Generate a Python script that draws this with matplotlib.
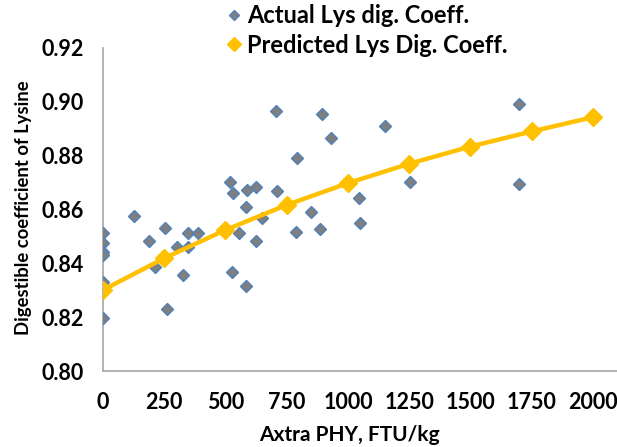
import matplotlib
matplotlib.use("Agg")
import matplotlib.pyplot as plt

plt.rcParams['font.family'] = ['Lato', 'DejaVu Sans']
plt.rcParams['font.weight'] = 'bold'

# Actual Lys digestibility coefficients
actual_phy = [0, 0, 0, 0, 0, 0, 0,
              128, 188, 212, 253, 262, 301, 328, 348, 348, 389,
              518, 525, 529, 555, 582, 584, 586, 623, 624, 648,
              705, 709, 786, 793, 849, 886, 894, 931,
              1045, 1049, 1151, 1253, 1698, 1698]
actual_coeff = [0.8512, 0.8475, 0.8443, 0.8431, 0.8332, 0.8294, 0.8196,
                0.8577, 0.8483, 0.8388, 0.8533, 0.8229, 0.8462, 0.8357, 0.8512, 0.8462, 0.8514,
                0.8704, 0.8369, 0.8661, 0.8514, 0.8611, 0.8316, 0.8673, 0.8483, 0.8683, 0.8568,
                0.8967, 0.8667, 0.8518, 0.8791, 0.8590, 0.8528, 0.8955, 0.8865,
                0.8642, 0.8551, 0.8912, 0.8704, 0.8993, 0.8694]

# Predicted curve
pred_phy = [0, 250, 500, 750, 1000, 1250, 1500, 1750, 2000]
pred_coeff = [0.8301, 0.8419, 0.8524, 0.8617, 0.8698, 0.8770, 0.8834, 0.8890, 0.8943]

x_ticks = [0, 250, 500, 750, 1000, 1250, 1500, 1750, 2000]
y_ticks = [0.80, 0.82, 0.84, 0.86, 0.88, 0.90, 0.92]

fig = plt.figure(figsize=(6.17, 4.47), dpi=100)
ax = fig.add_axes([103 / 617, 1 - 371 / 447, 1 - 103 / 617, (371 - 48) / 447])

ax.plot(actual_phy, actual_coeff, linestyle='none', marker='D', markersize=6.5,
        markerfacecolor='#7f7f7f', markeredgecolor='#4f81bd', markeredgewidth=1.0,
        label='Actual Lys dig. Coeff.', zorder=3)
ax.plot(pred_phy, pred_coeff, color='#ffc000', linewidth=3.2, marker='D', markersize=9,
        markerfacecolor='#ffc000', markeredgecolor='#ffc000',
        label='Predicted Lys Dig. Coeff.', zorder=4)

ax.set_xlim(0, 2098)
ax.set_ylim(0.80, 0.92)
ax.set_xticks(x_ticks)
ax.set_yticks(y_ticks)
ax.set_yticklabels([f"{v:.2f}" for v in y_ticks])

for side in ['top', 'right']:
    ax.spines[side].set_visible(False)
for side in ['left', 'bottom']:
    ax.spines[side].set_color('#a6a6a6')
    ax.spines[side].set_linewidth(1.2)
ax.tick_params(length=0, labelsize=15.5)
ax.tick_params(axis='y', pad=14)
ax.tick_params(axis='x', pad=15)
for lab in ax.get_xticklabels() + ax.get_yticklabels():
    lab.set_fontweight('bold')

ax.set_xlabel('Axtra PHY, FTU/kg', fontsize=15, fontweight='bold')
ax.xaxis.set_label_coords(0.48, -0.168)
ax.set_ylabel('Digestible coefficient of Lysine', fontsize=13.3, fontweight='bold')
ax.yaxis.set_label_coords(-0.138, 0.505)

leg = fig.legend(loc='upper left', bbox_to_anchor=(228 / 617, 1 - 4 / 447), frameon=False,
                 fontsize=17, handlelength=0.5, handletextpad=0.3, labelspacing=0.28,
                 borderaxespad=0.0, borderpad=0.0, markerscale=0.8)
leg.legend_handles[1].set_linestyle('none')
for t in leg.get_texts():
    t.set_fontweight('bold')

plt.savefig('out.png', dpi=100)
plt.close()
